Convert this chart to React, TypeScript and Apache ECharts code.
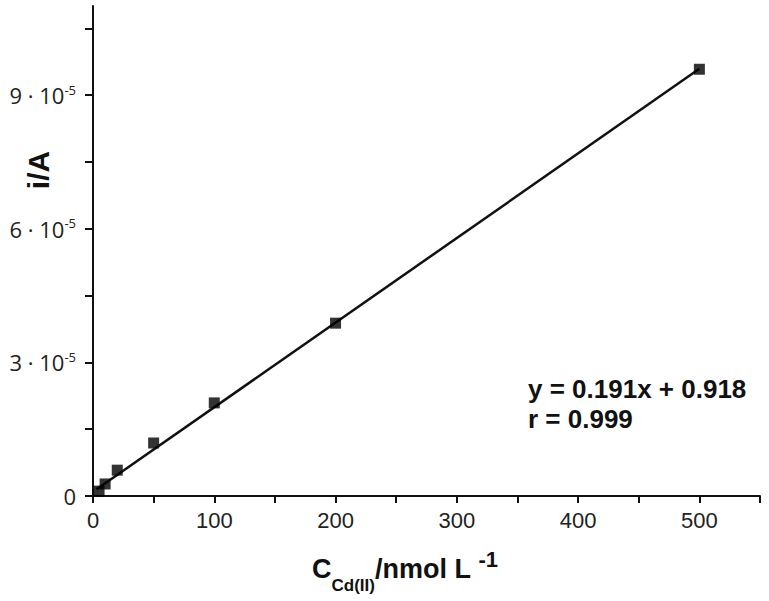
import React, { useEffect, useRef } from "react";
import * as echarts from "echarts";

const concentrations = [5, 10, 20, 50, 100, 200, 500];
const currents = [1.1e-6, 2.7e-6, 5.8e-6, 11.9e-6, 20.9e-6, 38.8e-6, 95.8e-6];
const fitX = [3, 500];
const fitY = [1.5e-6, 95.9e-6];
const xTickValues = [0, 50, 100, 150, 200, 250, 300, 350, 400, 450, 500, 550];
const xLabelValues = [0, 100, 200, 300, 400, 500];
const yTickValues = [0, 1.5e-5, 3e-5, 4.5e-5, 6e-5, 7.5e-5, 9e-5, 10.5e-5];
const yLabelValues = [0, 3e-5, 6e-5, 9e-5];
const equationLines = ["y = 0.191x + 0.918", "r = 0.999"];

export default function App() {
  const ref = useRef<HTMLDivElement>(null);
  useEffect(() => {
    if (!ref.current) return;
    const chart = echarts.init(ref.current, null, { renderer: "svg" });
    chart.setOption({
      animation: false,
      backgroundColor: "#ffffff",
      grid: { left: 93, right: 9, top: 6, bottom: 105, containLabel: false },
      xAxis: {
        type: "value",
        min: 0,
        max: 550,
        interval: 50,
        splitLine: { show: false },
        axisLine: { show: true, onZero: false, lineStyle: { color: "#111", width: 2 } },
        axisTick: { show: true, length: 7, customValues: xTickValues, lineStyle: { color: "#111", width: 2 } },
        axisLabel: {
          customValues: xLabelValues,
          margin: 13,
          fontFamily: "Liberation Sans",
          fontSize: 22,
          color: "#222",
        },
      },
      yAxis: {
        type: "value",
        min: 0,
        max: 11e-5,
        interval: 1.5e-5,
        splitLine: { show: false },
        axisLine: { show: true, onZero: false, lineStyle: { color: "#111", width: 2 } },
        axisTick: { show: true, length: 8, customValues: yTickValues, lineStyle: { color: "#111", width: 2 } },
        axisLabel: {
          customValues: yLabelValues,
          margin: 17,
          color: "#222",
          formatter: (v: number) => {
            const m = Math.round(v / 1e-5);
            if (m === 0) return "{n|0}";
            return "{n|" + m + " · 10}{s|-5}";
          },
          rich: {
            n: { fontFamily: "Open Sans", fontSize: 22, lineHeight: 28, color: "#222", verticalAlign: "middle" },
            s: {
              fontFamily: "Open Sans",
              fontSize: 13,
              lineHeight: 13,
              padding: [0, 0, 11, 0],
              color: "#222",
              verticalAlign: "middle",
            },
          },
        },
      },
      graphic: [
        {
          type: "text",
          x: 38,
          y: 170,
          rotation: Math.PI / 2,
          style: {
            text: "i/A",
            fontFamily: "Liberation Sans",
            fontWeight: "bold",
            fontSize: 30,
            fill: "#111",
            align: "center",
            verticalAlign: "middle",
          },
        },
        {
          type: "text",
          x: 312,
          y: 544,
          style: {
            text: "{m|C}{b|Cd(II)}{m|/nmol L }{p|-1}",
            fill: "#111",
            rich: {
              m: { fontFamily: "Liberation Sans", fontWeight: "bold", fontSize: 27, lineHeight: 50, verticalAlign: "middle", fill: "#111" },
              b: {
                fontFamily: "Liberation Sans",
                fontWeight: "bold",
                fontSize: 17,
                lineHeight: 17,
                padding: [33, 0, 0, 0],
                verticalAlign: "middle",
                fill: "#111",
              },
              p: {
                fontFamily: "Liberation Sans",
                fontWeight: "bold",
                fontSize: 22,
                lineHeight: 22,
                padding: [0, 0, 20, 0],
                verticalAlign: "middle",
                fill: "#111",
              },
            },
          },
        },
        {
          type: "text",
          x: 528,
          y: 374,
          style: {
            text: equationLines.join("\n"),
            fontFamily: "Liberation Sans",
            fontWeight: "bold",
            fontSize: 26,
            lineHeight: 30,
            fill: "#111",
          },
        },
      ],
      series: [
        {
          type: "line",
          data: fitX.map((x, i) => [x, fitY[i]]),
          showSymbol: false,
          symbol: "none",
          lineStyle: { color: "#111", width: 2.5 },
          z: 2,
        },
        {
          type: "scatter",
          data: concentrations.map((x, i) => [x, currents[i]]),
          symbol: "rect",
          symbolSize: 11,
          itemStyle: { color: "#000" },
          z: 3,
        },
      ],
    });
    return () => chart.dispose();
  }, []);
  return <div ref={ref} style={{ width: 769, height: 601, position: "absolute", left: 0, top: 0 }} />;
}
